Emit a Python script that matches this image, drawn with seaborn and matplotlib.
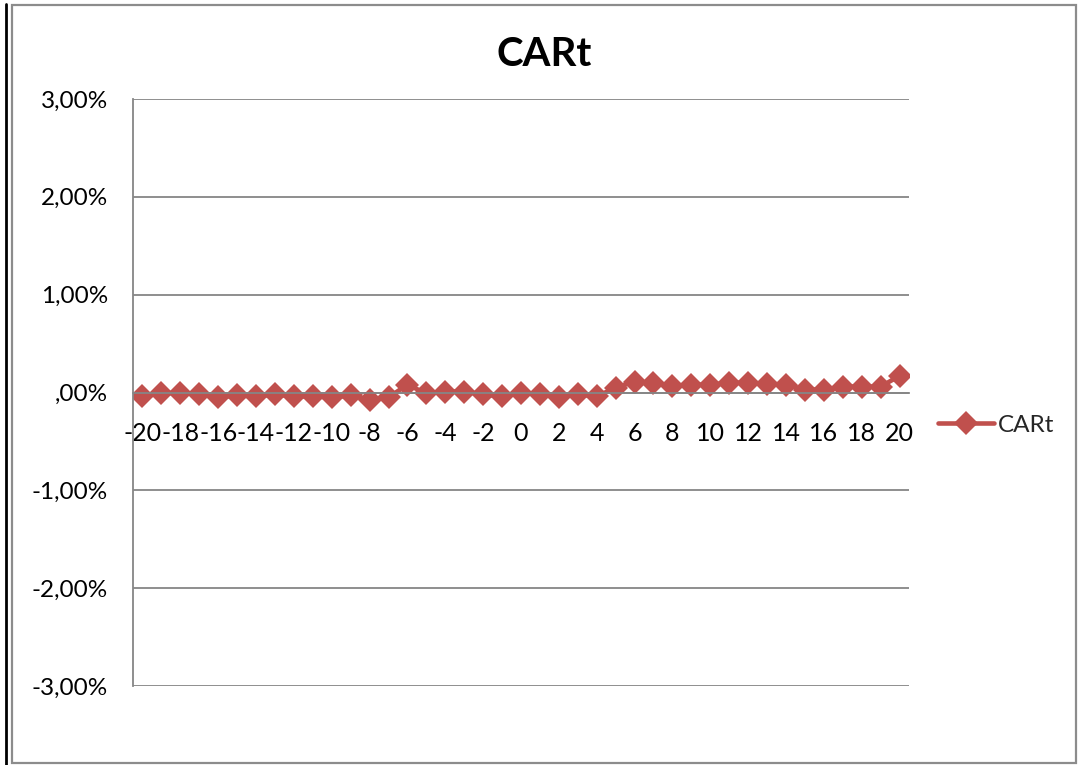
import matplotlib
matplotlib.use("Agg")
import matplotlib.pyplot as plt
from matplotlib.lines import Line2D
from matplotlib.patches import Rectangle
import pandas as pd
import seaborn as sns

# Event window (days relative to the event) and cumulative abnormal return
days = list(range(-20, 21))
car = [
    -0.0004, -0.0001, 0.0000, -0.0002, -0.0005, -0.0003, -0.0004, -0.0002,
    -0.0004, -0.0004, -0.0005, -0.0003, -0.0008, -0.0005, 0.0008, -0.0001,
    0.0001, 0.0001, -0.0002, -0.0004, 0.0000, -0.0002, -0.0005, -0.0002,
    -0.0004, 0.0005, 0.0011, 0.0010, 0.0007, 0.0008, 0.0008, 0.0010,
    0.0010, 0.0009, 0.0008, 0.0003, 0.0003, 0.0006, 0.0006, 0.0006,
    0.0017,
]
series_name = "CARt"
x_tick_days = list(range(-20, 21, 2))
y_ticks = [-0.03, -0.02, -0.01, 0.0, 0.01, 0.02, 0.03]
y_tick_labels = ["-3,00%", "-2,00%", "-1,00%", ",00%", "1,00%", "2,00%", "3,00%"]

W, H = 1078, 765
line_color = "#C0504D"
grid_color = "#868686"

sns.set_theme(style="white")
plt.rcParams["font.family"] = ["Lato", "DejaVu Sans"]

fig = plt.figure(figsize=(W / 100, H / 100), dpi=100)
fig.patch.set_facecolor("white")

# plot area in pixel terms: x 133..909, y 99..686
ax = fig.add_axes([133 / W, 1 - 686 / H, (909 - 133) / W, (686 - 99) / H])

df = pd.DataFrame({"day": days, series_name: car})
sns.lineplot(
    data=df, x="day", y=series_name, ax=ax,
    color=line_color, linewidth=3.3, marker="D", markersize=12,
    markeredgewidth=0, legend=False,
)

ax.set_xlim(-20.5, 20.5)
ax.set_ylim(-0.03, 0.03)
ax.set_yticks(y_ticks)
ax.set_yticklabels(y_tick_labels)
ax.set_xticks(x_tick_days)
ax.set_xticklabels([str(d) for d in x_tick_days])
ax.set_xlabel("")
ax.set_ylabel("")

ax.yaxis.grid(True, color=grid_color, linewidth=1.3)
ax.xaxis.grid(False)
ax.set_axisbelow(True)

for side in ("top", "right"):
    ax.spines[side].set_visible(False)
ax.spines["left"].set_color(grid_color)
ax.spines["left"].set_linewidth(1.3)
ax.spines["bottom"].set_position(("data", 0))
ax.spines["bottom"].set_color(grid_color)
ax.spines["bottom"].set_linewidth(1.3)

ax.tick_params(axis="x", length=0, pad=21, labelsize=18, labelcolor="black")
ax.tick_params(axis="y", length=0, pad=18, labelsize=17.5, labelcolor="black")

fig.text(544.5 / W, 1 - 55 / H, "CARt", ha="center", va="center",
         fontsize=29, fontweight="bold", color="black")

handle = Line2D([], [], color=line_color, linewidth=3.3, marker="D",
                markersize=12, markeredgewidth=0)
fig.legend([handle], [series_name], loc="center left",
           bbox_to_anchor=(938 / W, 1 - 425 / H), frameon=False,
           fontsize=17.5, handlelength=2.3, handletextpad=0.15,
           borderpad=0, borderaxespad=0)

# chart frame
fig.add_artist(Rectangle((12 / W, 1 - 763 / H), (1076 - 12) / W, (763 - 5) / H,
                         transform=fig.transFigure, fill=False,
                         edgecolor="#8C8C8C", linewidth=1.6))
fig.add_artist(Line2D([6 / W, 6 / W], [0, 1 - 4 / H], transform=fig.transFigure,
                      color="black", linewidth=2))

fig.savefig("out.png", dpi=100, facecolor="white")
